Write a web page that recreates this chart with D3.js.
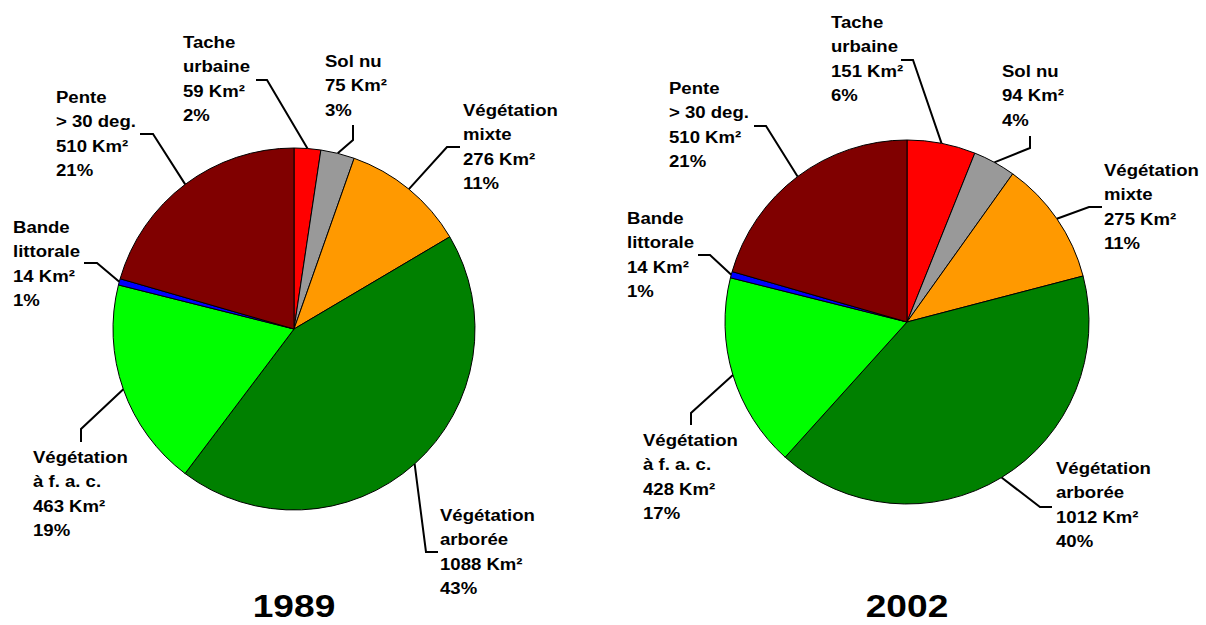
<!DOCTYPE html>
<html>
<head>
<meta charset="utf-8">
<script src="https://cdn.jsdelivr.net/npm/d3@7"></script>
<style>
  body { margin: 0; background: #fff; }
  text { font-family: "Liberation Sans", Arial, sans-serif; font-weight: bold; fill: #000; }
</style>
</head>
<body>
<div class="charts"></div>
<script>
// categories, clockwise from 12 o'clock
const categories = ['Tache urbaine', 'Sol nu', 'Végétation mixte', 'Végétation arborée',
    'Végétation à f. a. c.', 'Bande littorale', 'Pente > 30 deg.'];
// label lines as printed in the figure
const labelNames = [['Tache', 'urbaine'], ['Sol nu'], ['Végétation', 'mixte'], ['Végétation', 'arborée'],
    ['Végétation', 'à f. a. c.'], ['Bande', 'littorale'], ['Pente', '> 30 deg.']];
const colors = ['#ff0000', '#999999', '#ff9900', '#008000', '#00ff00', '#0000ff', '#800000'];

const years = ['1989', '2002'];
const values1989 = [59, 75, 276, 1088, 463, 14, 510];
const values2002 = [151, 94, 275, 1012, 428, 14, 510];
const percents1989 = [2, 3, 11, 43, 19, 1, 21];
const percents2002 = [6, 4, 11, 40, 17, 1, 21];

// layout of each pie and of its moved labels (text origin, leader stub end, stub direction)
const layouts = [
    {cx: 294, cy: 329, r: 181,
     text: [[183, 48], [325, 67], [463, 116], [440, 521], [33, 463], [13, 233], [56, 103]],
     stub: [[256, 80, 'h', 11], [353, 125, 'v', 15], [460, 147, 'h', -13], [438, 552, 'h', -12],
            [81, 442, 'v', -13], [84, 263, 'h', 13], [140, 134, 'h', 13]]},
    {cx: 907, cy: 322, r: 182,
     text: [[831, 28], [1002, 77], [1104, 176], [1056, 474], [643, 446], [627, 224], [669, 94]],
     stub: [[901, 60, 'h', 12], [1030, 136, 'v', 12], [1102, 207, 'h', -13], [1052, 507, 'h', -12],
            [691, 425, 'v', -12], [698, 255, 'h', 12], [754, 126, 'h', 12]]}
];

const series = [
    {year: years[0], values: values1989, pct: percents1989},
    {year: years[1], values: values2002, pct: percents2002}
];

const W = 1206, H = 625;
const lineH = 24.4;
const stretch = 1.16;

let svg = d3.select('.charts').append('svg')
    .attr('width', W)
    .attr('height', H);

let pie = d3.pie().sort(null).value(function(d){ return d; });

series.forEach(function(s, k){
    const L = layouts[k];
    const arcs = pie(s.values);
    const arc = d3.arc().innerRadius(0).outerRadius(L.r);
    const edge = d3.arc().innerRadius(L.r).outerRadius(L.r);

    let g = svg.append('g')
        .attr('transform', 'translate(' + L.cx + ',' + L.cy + ')');

    g.selectAll('path.slice')
        .data(arcs).enter()
        .append('path')
        .attr('class', 'slice')
        .attr('d', arc)
        .attr('fill', function(d, i){ return colors[i]; })
        .attr('stroke', '#000')
        .attr('stroke-width', 1)
        .attr('stroke-linejoin', 'round');

    // leader lines: pie edge -> knee -> stub end near label
    svg.selectAll('path.leader' + k)
        .data(arcs).enter()
        .append('path')
        .attr('class', 'leader' + k)
        .attr('d', function(d, i){
            const c = edge.centroid(d);
            const st = L.stub[i];
            const kx = st[2] === 'h' ? st[0] + st[3] : st[0];
            const ky = st[2] === 'v' ? st[1] + st[3] : st[1];
            return 'M' + (L.cx + c[0]) + ',' + (L.cy + c[1]) + 'L' + kx + ',' + ky + 'L' + st[0] + ',' + st[1];
        })
        .attr('fill', 'none')
        .attr('stroke', '#000')
        .attr('stroke-width', 2);

    // labels
    let labels = svg.selectAll('g.label' + k)
        .data(arcs).enter()
        .append('g')
        .attr('class', 'label' + k)
        .attr('transform', function(d, i){
            return 'translate(' + L.text[i][0] + ',' + L.text[i][1] + ') scale(' + stretch + ',1)';
        });

    labels.append('text')
        .style('font-size', '16px')
        .selectAll('tspan')
        .data(function(d, i){
            return labelNames[i].concat([s.values[i] + ' Km²', s.pct[i] + '%']);
        })
        .enter().append('tspan')
        .attr('x', 0)
        .attr('y', function(d, j){ return j * lineH; })
        .text(function(d){ return d; });

    svg.append('g')
        .attr('transform', 'translate(' + L.cx + ',617) scale(' + stretch + ',1)')
        .append('text')
        .attr('text-anchor', 'middle')
        .style('font-size', '32px')
        .text(s.year);
});
</script>
</body>
</html>
